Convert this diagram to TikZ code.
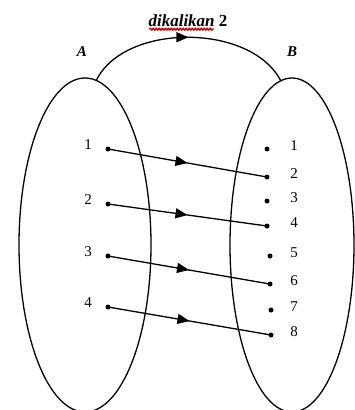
\documentclass[tikz,border=0pt]{standalone}
\usepackage{fontspec}
\setmainfont{Liberation Serif}
\usetikzlibrary{shapes.geometric,arrows.meta,decorations.markings,decorations.pathmorphing}
\tikzset{
  setbox/.style={draw, ellipse, line width=1.3pt, inner sep=0pt},
  dot/.style={circle, fill, inner sep=0pt, minimum size=5pt},
  lbl/.style={inner sep=0pt, font=\fontsize{15}{15}\selectfont},
  conn/.style={line width=1.3pt, postaction={decorate},
    decoration={markings, mark=at position 0.5 with {\arrow{Triangle[length=12pt,width=10pt]}}}},
}
\begin{document}
\begin{tikzpicture}[x=1pt,y=-1pt]
\useasboundingbox (0,0) rectangle (355,410);
\node[setbox, minimum width=132pt, minimum height=334pt] (A) at (85,245) {};
\node[setbox, minimum width=124pt, minimum height=334pt] (B) at (292,245) {};
\node[lbl, font=\fontsize{15}{15}\selectfont\bfseries\itshape] (nA) at (82,52) {A};
\node[lbl, font=\fontsize{15}{15}\selectfont\bfseries\itshape] (nB) at (292,52) {B};
\draw[conn] (A.86) .. controls (125,23) and (250,23) .. (B.94);
\node[lbl, font=\fontsize{17}{17}\selectfont\bfseries] (t) at (188,21) {\textit{dikalikan} 2};
\draw[red!80!black, line width=1.5pt, decorate, decoration={snake, amplitude=0.8pt, segment length=3pt}] ([xshift=1pt,yshift=-2pt]t.south west) -- ([xshift=-14pt,yshift=-2pt]t.south east);
% left dots and labels
\foreach \i/\y in {1/149, 2/204, 3/256, 4/307} {
  \node[dot] (l\i) at (108,\y) {};
  \node[lbl] (nl\i) at (88,\y-4) {\i};
}
% right dots and labels
\foreach \i/\x/\y in {1/267/149, 2/267/177, 3/267/201, 4/267/226, 5/270/256, 6/270/284, 7/271/310, 8/271/335} {
  \node[dot] (r\i) at (\x,\y) {};
  \node[lbl] (nr\i) at (294,\y-3) {\i};
}
\draw[conn] (l1.center) -- (r2.center);
\draw[conn] (l2.center) -- (r4.center);
\draw[conn] (l3.center) -- (r6.center);
\draw[conn] (l4.center) -- (r8.center);
\end{tikzpicture}
\end{document}
